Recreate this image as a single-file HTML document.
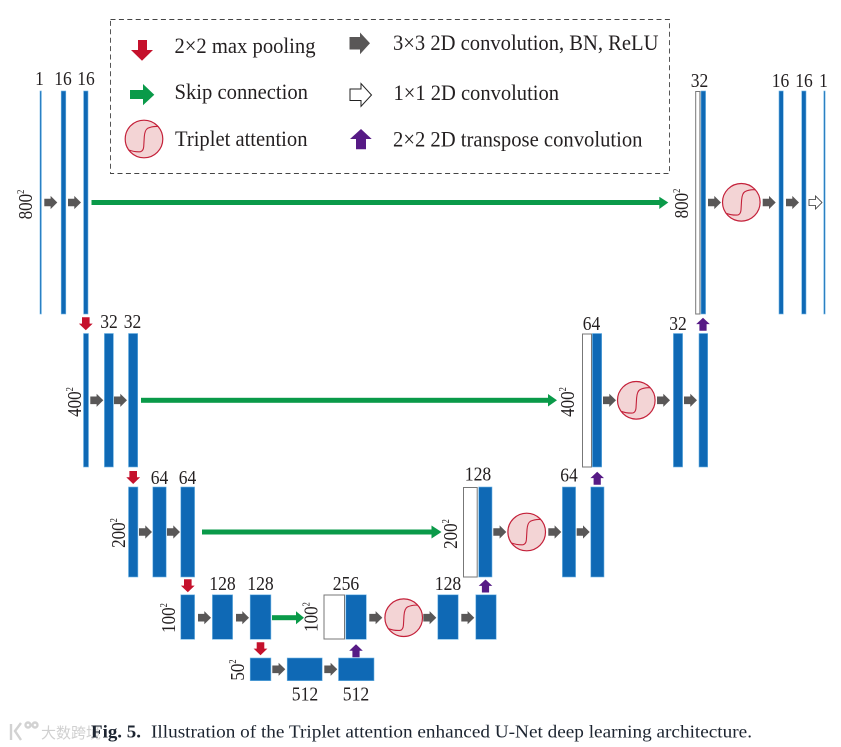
<!DOCTYPE html>
<html><head><meta charset="utf-8">
<style>
html,body{margin:0;padding:0;background:#fff}
svg{display:block}
text{font-family:"Liberation Serif","Noto Serif CJK SC",serif;fill:#231f20}
.b{fill:#0f69b5;stroke:#6db3e4;stroke-width:.6}
.w{fill:#fff;stroke:#777;stroke-width:1}
.n{font-size:20px;text-anchor:middle}
.l{font-size:22px}
.r{font-size:20px;text-anchor:middle}
.s{font-size:10px}
</style></head><body>
<svg width="841" height="747" viewBox="0 0 841 747" xmlns="http://www.w3.org/2000/svg">
<defs>
<path id="g" d="M0,-3.8H6.3V-6.6L13,0L6.3,6.6V3.8H0Z" fill="#595757"/>
<path id="o" d="M0,-3H6.5V-6.5L13,0L6.5,6.5V3H0Z" fill="#fff" stroke="#333" stroke-width=".8"/>
<path id="d" d="M-3.8,0H3.8V6.3H6.9L0,13L-6.9,6.3H-3.8Z" fill="#c5112c"/>
<path id="u" d="M-3.6,13H3.6V6.4H6.8L0,0L-6.8,6.4H-3.6Z" fill="#561a85"/>
<g id="c">
<circle r="18.8" fill="#f3d4d5" stroke="#c4213a" stroke-width="1.2"/>
<path d="M-15.3,11C-11,12.5 -7,13 -3.5,12.7C-1,12 -0.5,10 -0.3,7.7L0.3,-2.3C0.6,-6 1.5,-9.5 3.7,-10.7C7,-12.3 10,-12.8 14,-12.5" fill="none" stroke="#c4213a" stroke-width="1.1"/>
</g>
</defs>
<rect width="841" height="747" fill="#fff"/>

<!-- legend -->
<rect x="110.5" y="19.5" width="559" height="154" fill="none" stroke="#444" stroke-width=".9" stroke-dasharray="5 3.4"/>
<path d="M138,40H147V50H153L142,60.7L131,50H138Z" fill="#c5112c"/>
<path d="M130,90H143V84L154.3,94.7L143,105.3V99H130Z" fill="#0a9a49"/>
<use href="#c" x="144" y="139"/>
<path d="M349.5,37H360V32.5L370,43.3L360,54.2V49.5H349.5Z" fill="#595757"/>
<path d="M350,89H361V83.5L371.5,95L361,106.3V100.5H350Z" fill="#fff" stroke="#222" stroke-width="1"/>
<path d="M356,149.3H366V139H371.7L361,129L350,139H356Z" fill="#561a85"/>
<text class="l" x="174.5" y="53" textLength="141" lengthAdjust="spacingAndGlyphs">2×2 max pooling</text>
<text class="l" x="174.5" y="99" textLength="133.5" lengthAdjust="spacingAndGlyphs">Skip connection</text>
<text class="l" x="175" y="146" textLength="132.5" lengthAdjust="spacingAndGlyphs">Triplet attention</text>
<text class="l" x="393" y="50" textLength="265.5" lengthAdjust="spacingAndGlyphs">3×3 2D convolution, BN, ReLU</text>
<text class="l" x="393.5" y="100" textLength="165.5" lengthAdjust="spacingAndGlyphs">1×1 2D convolution</text>
<text class="l" x="393" y="146.5" textLength="249.5" lengthAdjust="spacingAndGlyphs">2×2 2D transpose convolution</text>

<!-- row 1 -->
<rect class="b" x="40" y="91" width="1.4" height="223"/>
<rect class="b" x="61.2" y="91" width="4.6" height="223"/>
<rect class="b" x="83.6" y="91" width="4.4" height="223"/>
<rect class="w" x="695.7" y="91.5" width="4.2" height="222.5"/>
<rect class="b" x="701" y="91" width="4.6" height="223"/>
<rect class="b" x="779" y="91" width="4.3" height="223"/>
<rect class="b" x="801.7" y="91" width="4.3" height="223"/>
<rect class="b" x="823.8" y="91" width="1.3" height="223"/>
<text class="n" x="39.5" y="85" textLength="8.7" lengthAdjust="spacingAndGlyphs">1</text>
<text class="n" x="63" y="85" textLength="17.5" lengthAdjust="spacingAndGlyphs">16</text>
<text class="n" x="86" y="85" textLength="17.5" lengthAdjust="spacingAndGlyphs">16</text>
<text class="n" x="699.5" y="87" textLength="17.5" lengthAdjust="spacingAndGlyphs">32</text>
<text class="n" x="780.5" y="87" textLength="17.5" lengthAdjust="spacingAndGlyphs">16</text>
<text class="n" x="804" y="87" textLength="17.5" lengthAdjust="spacingAndGlyphs">16</text>
<text class="n" x="823.5" y="87" textLength="8.7" lengthAdjust="spacingAndGlyphs">1</text>
<use href="#g" x="44.3" y="202.5"/><use href="#g" x="68" y="202.5"/>
<rect x="91.5" y="200" width="569" height="5" fill="#0a9a49"/>
<path d="M659.3,196.7L668.3,202.5L659.3,209Z" fill="#0a9a49"/>
<text class="r" transform="translate(32,204.5) rotate(-90) scale(.85,1)">800<tspan class="s" dy="-8">2</tspan></text>
<text class="r" transform="translate(688,203.5) rotate(-90) scale(.85,1)">800<tspan class="s" dy="-8">2</tspan></text>
<use href="#g" x="708" y="202.5"/>
<use href="#c" x="741.3" y="202.3"/>
<use href="#g" x="762.7" y="202.5"/><use href="#g" x="786" y="202.5"/>
<use href="#o" x="809" y="202.5"/>
<use href="#d" x="85.8" y="317.3"/>
<use href="#u" x="703" y="317.7"/>

<!-- row 2 -->
<rect class="b" x="83.5" y="333.5" width="5" height="133.5"/>
<rect class="b" x="104.4" y="333.5" width="9" height="133.5"/>
<rect class="b" x="128.5" y="333.5" width="9.2" height="133.5"/>
<rect class="w" x="582.5" y="334" width="9" height="133"/>
<rect class="b" x="592.4" y="333.5" width="9.3" height="133.5"/>
<rect class="b" x="673.4" y="333.5" width="9.2" height="133.5"/>
<rect class="b" x="699" y="333.5" width="8.7" height="133.5"/>
<text class="n" x="109" y="328" textLength="17.5" lengthAdjust="spacingAndGlyphs">32</text>
<text class="n" x="132.5" y="328" textLength="17.5" lengthAdjust="spacingAndGlyphs">32</text>
<text class="n" x="591.5" y="330" textLength="17.5" lengthAdjust="spacingAndGlyphs">64</text>
<text class="n" x="678" y="330" textLength="17.5" lengthAdjust="spacingAndGlyphs">32</text>
<text class="r" transform="translate(81,402) rotate(-90) scale(.85,1)">400<tspan class="s" dy="-8">2</tspan></text>
<text class="r" transform="translate(574,402) rotate(-90) scale(.85,1)">400<tspan class="s" dy="-8">2</tspan></text>
<use href="#g" x="90.3" y="400.3"/><use href="#g" x="114" y="400.3"/>
<rect x="141" y="397.8" width="409" height="5" fill="#0a9a49"/>
<path d="M548,394L557,400.3L548,406.5Z" fill="#0a9a49"/>
<use href="#g" x="603" y="400.3"/>
<use href="#c" x="636.3" y="400.3"/>
<use href="#g" x="657" y="400.3"/><use href="#g" x="684" y="400.3"/>
<use href="#d" x="133.2" y="471"/>
<use href="#u" x="597.2" y="471.7"/>

<!-- row 3 -->
<rect class="b" x="128.5" y="487" width="9.4" height="90"/>
<rect class="b" x="152.8" y="487" width="13.4" height="90"/>
<rect class="b" x="180.8" y="487" width="13.8" height="90"/>
<rect class="w" x="463.5" y="487.5" width="13.7" height="89.5"/>
<rect class="b" x="478.7" y="487" width="13.3" height="90"/>
<rect class="b" x="562.4" y="487" width="13.2" height="90"/>
<rect class="b" x="590.8" y="487" width="13.2" height="90"/>
<text class="n" x="159.5" y="484" textLength="17.5" lengthAdjust="spacingAndGlyphs">64</text>
<text class="n" x="187.5" y="484" textLength="17.5" lengthAdjust="spacingAndGlyphs">64</text>
<text class="n" x="478" y="480.5" textLength="26.5" lengthAdjust="spacingAndGlyphs">128</text>
<text class="n" x="569" y="481.5" textLength="17.5" lengthAdjust="spacingAndGlyphs">64</text>
<text class="r" transform="translate(125,533) rotate(-90) scale(.85,1)">200<tspan class="s" dy="-8">2</tspan></text>
<text class="r" transform="translate(457,534) rotate(-90) scale(.85,1)">200<tspan class="s" dy="-8">2</tspan></text>
<use href="#g" x="139" y="532"/><use href="#g" x="167" y="532"/>
<rect x="202" y="529.5" width="232" height="5" fill="#0a9a49"/>
<path d="M431.5,525.5L441.5,532L431.5,538.5Z" fill="#0a9a49"/>
<use href="#g" x="493.3" y="532"/>
<use href="#c" x="526.7" y="532"/>
<use href="#g" x="548.3" y="532"/><use href="#g" x="576.7" y="532"/>
<use href="#d" x="187.8" y="579.3"/>
<use href="#u" x="485.5" y="579.5"/>

<!-- row 4 -->
<rect class="b" x="180.8" y="594.8" width="13.8" height="44.5"/>
<rect class="b" x="212.4" y="594.8" width="20.2" height="44.5"/>
<rect class="b" x="250.2" y="594.8" width="20.7" height="44.5"/>
<rect class="w" x="324" y="595" width="20.5" height="44"/>
<rect class="b" x="345.8" y="594.8" width="20.5" height="44.5"/>
<rect class="b" x="437.8" y="594.8" width="20.4" height="44.5"/>
<rect class="b" x="475.8" y="594.8" width="20.4" height="44.5"/>
<text class="n" x="222.5" y="590" textLength="26.5" lengthAdjust="spacingAndGlyphs">128</text>
<text class="n" x="260.5" y="590" textLength="26.5" lengthAdjust="spacingAndGlyphs">128</text>
<text class="n" x="346" y="590" textLength="26.5" lengthAdjust="spacingAndGlyphs">256</text>
<text class="n" x="448" y="590" textLength="26.5" lengthAdjust="spacingAndGlyphs">128</text>
<text class="r" transform="translate(175,618) rotate(-90) scale(.85,1)">100<tspan class="s" dy="-8">2</tspan></text>
<text class="r" transform="translate(317.5,617) rotate(-90) scale(.85,1)">100<tspan class="s" dy="-8">2</tspan></text>
<use href="#g" x="198" y="617.7"/><use href="#g" x="236" y="617.7"/>
<rect x="272" y="615.2" width="25" height="5" fill="#0a9a49"/>
<path d="M296,611.2L304,617.7L296,624.2Z" fill="#0a9a49"/>
<use href="#g" x="369.3" y="617.7"/>
<use href="#c" x="403.7" y="617.7"/>
<use href="#g" x="423.3" y="617.7"/><use href="#g" x="461.3" y="617.7"/>
<use href="#d" x="260.5" y="642.3"/>
<use href="#u" x="356" y="644.3"/>

<!-- row 5 -->
<rect class="b" x="250.2" y="658" width="20.7" height="22.7"/>
<rect class="b" x="287.2" y="658" width="35" height="22.7"/>
<rect class="b" x="338.5" y="658" width="35.5" height="22.7"/>
<text class="n" x="305" y="700.5" textLength="26.5" lengthAdjust="spacingAndGlyphs">512</text>
<text class="n" x="356" y="700.5" textLength="26.5" lengthAdjust="spacingAndGlyphs">512</text>
<text class="r" transform="translate(244,670) rotate(-90) scale(.85,1)">50<tspan class="s" dy="-8">2</tspan></text>
<use href="#g" x="272.3" y="669.3"/><use href="#g" x="324.3" y="669.3"/>

<!-- caption & watermark -->
<g fill="none" stroke="#d2d2d2" stroke-width="2.4">
<path d="M11,724V740M21,723L15,731L21,740"/>
<circle cx="28" cy="725" r="2.5"/><circle cx="35" cy="725" r="2.5"/>
</g>
<text x="41" y="738" style="font-family:'Noto Sans CJK SC',sans-serif;font-size:15px;fill:#d0d0d0">大数跨境</text>
<text x="91" y="737.3" style="font-size:17.5px;font-weight:bold;fill:#1c2430" textLength="50" lengthAdjust="spacingAndGlyphs">Fig. 5.</text>
<text x="151" y="737.3" style="font-size:18px;fill:#1c2430" textLength="601" lengthAdjust="spacingAndGlyphs">Illustration of the Triplet attention enhanced U-Net deep learning architecture.</text>
</svg>
</body></html>
